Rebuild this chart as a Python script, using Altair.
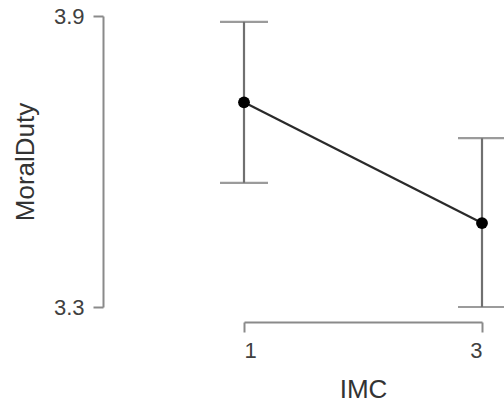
import altair as alt
import pandas as pd

imc = [1, 3]
mean = [3.722, 3.473]
lower = [3.556, 3.300]
upper = [3.888, 3.648]

df = pd.DataFrame({"IMC": imc, "MoralDuty": mean, "lo": lower, "hi": upper})

xs = alt.Scale(domain=[1, 3], nice=False, zero=False)
ys = alt.Scale(domain=[3.3, 3.9], nice=False, zero=False)

font = "Liberation Sans"

x_enc = alt.X("IMC:Q", scale=xs, axis=alt.Axis(
    values=[1, 3], format="d", offset=15, grid=False, domainColor="#8a8a8a",
    domainWidth=2, tickColor="#8a8a8a", tickWidth=2, tickSize=10,
    labelFont=font, labelFontSize=22, labelColor="#404040", labelPadding=8,
    titleFont=font, titleFontSize=26, titleFontWeight="normal", titleColor="#333333",
    titlePadding=15, title="IMC"))
y_enc = alt.Y("MoralDuty:Q", scale=ys, axis=alt.Axis(
    values=[3.3, 3.9], format=".1f", offset=141, grid=False, domainColor="#8a8a8a",
    domainWidth=2, tickColor="#8a8a8a", tickWidth=2, tickSize=10,
    labelFont=font, labelFontSize=22, labelColor="#404040", labelPadding=9,
    titleFont=font, titleFontSize=26, titleFontWeight="normal", titleColor="#333333",
    titlePadding=15, title="MoralDuty"))

base = alt.Chart(df)

bars = base.mark_rule(color="#707070", strokeWidth=2.2).encode(
    x=x_enc, y=alt.Y("lo:Q", scale=ys), y2="hi:Q")
cap_lo = base.mark_tick(color="#707070", thickness=2.2, size=48, orient="horizontal").encode(
    x=alt.X("IMC:Q", scale=xs), y=alt.Y("lo:Q", scale=ys))
cap_hi = base.mark_tick(color="#707070", thickness=2.2, size=48, orient="horizontal").encode(
    x=alt.X("IMC:Q", scale=xs), y=alt.Y("hi:Q", scale=ys))
line = base.mark_line(color="#2a2a2a", strokeWidth=2.2).encode(x=x_enc, y=y_enc)
pts = base.mark_point(filled=True, color="#000000", size=140, opacity=1).encode(x=x_enc, y=y_enc)

chart = alt.layer(bars, cap_lo, cap_hi, line, pts).properties(
    width=238, height=291,
    autosize=alt.AutoSizeParams(type="none"),
    padding={"left": 244, "top": 16, "right": 22, "bottom": 99},
).configure(background="white").configure_view(strokeWidth=0, stroke="transparent")

chart.save("out.html", embed_options={"renderer": "svg", "actions": False})
